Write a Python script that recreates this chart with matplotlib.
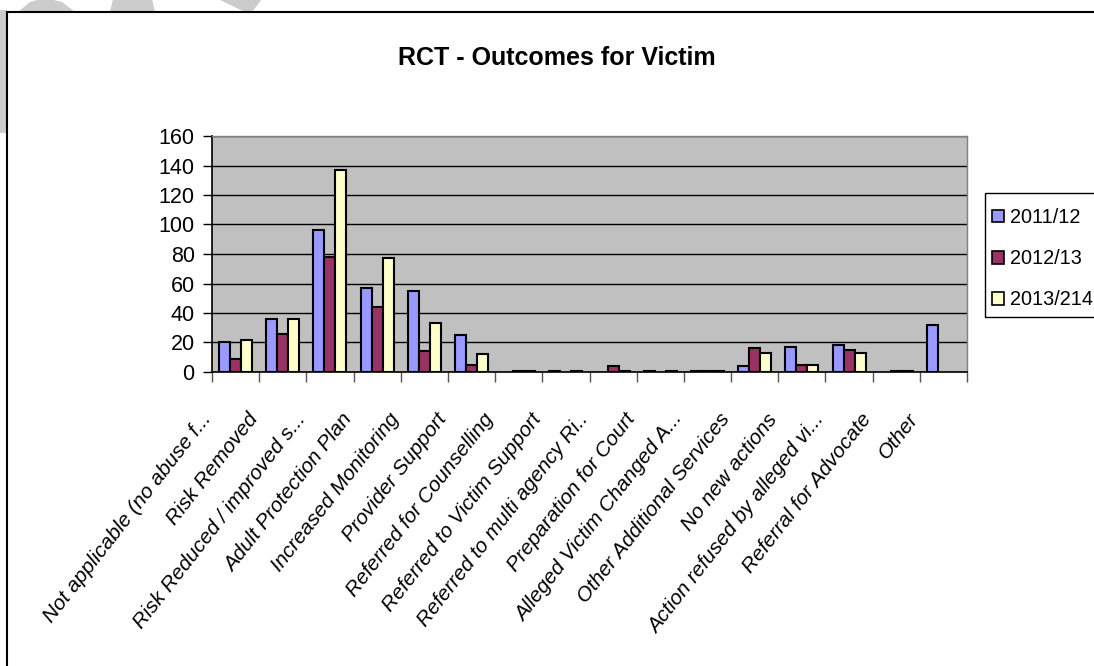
import matplotlib
matplotlib.use("Agg")
import matplotlib.pyplot as plt
import matplotlib.transforms as mtransforms
from matplotlib.patches import Patch, Rectangle, Polygon
import numpy as np

plt.rcParams['font.family'] = ['Liberation Sans', 'DejaVu Sans']

categories = ["Not applicable (no abuse f...", "Risk Removed", "Risk Reduced / improved s...",
              "Adult Protection Plan", "Increased Monitoring", "Provider Support",
              "Referred for Counselling", "Referred to Victim Support", "Referred to multi agency Ri..",
              "Preparation for Court", "Alleged Victim Changed A...", "Other Additional Services",
              "No new actions", "Action refused by alleged vi...", "Referral for Advocate", "Other"]
series_names = ["2011/12", "2012/13", "2013/214"]
y2011 = [20, 36, 96, 57, 55, 25, 0, 1, 0, 1, 1, 4, 17, 18, 0, 32]
y2012 = [9, 26, 78, 44, 14, 5, 1, 0, 4, 0, 1, 16, 5, 15, 1, 0]
y2013 = [22, 36, 137, 77, 33, 12, 1, 1, 1, 1, 1, 13, 5, 13, 1, 0]
colors = ["#9999FF", "#993366", "#FFFFCC"]

W, H = 1094, 666
fig = plt.figure(figsize=(W / 100, H / 100), dpi=100)

# faint watermark fragments outside the frame
for pts in [[(18, 12), (30, 2), (45, -2), (62, 2), (75, 12)],
            [(110, 12), (155, 12), (152, -1), (113, -1)],
            [(218, -1), (262, -1), (252, 12), (245, 12)],
            [(0, 10), (7, 10), (7, 133), (0, 133)]]:
    fig.add_artist(Polygon([(x / W, 1 - y / H) for x, y in pts], closed=True,
                           transform=fig.transFigure, facecolor="#CCCCCC",
                           edgecolor="none", zorder=-3))

# chart frame
fig.add_artist(Rectangle((7 / W, -0.1), 1.2, 1 - 12 / H + 0.1, transform=fig.transFigure,
                         facecolor="white", edgecolor="black", lw=1.5, zorder=-2))

ax = fig.add_axes([212 / W, 1 - 372 / H, (967 - 212) / W, (372 - 136) / H])
ax.set_facecolor("#C0C0C0")

x = np.arange(len(categories))
bw = 0.233
for k, (vals, col) in enumerate(zip([y2011, y2012, y2013], colors)):
    vals = np.array(vals, dtype=float)
    keep = vals > 0
    ax.bar(x[keep] + (k - 1) * bw, vals[keep], width=bw, color=col,
           edgecolor="black", linewidth=1.5, zorder=3)

ax.set_xlim(-0.5, len(categories) - 0.5)
ax.set_ylim(0, 160)
ax.set_yticks(np.arange(0, 161, 20))
ax.yaxis.grid(True, color="black", linewidth=1, zorder=1)
ax.set_axisbelow(True)
ax.tick_params(axis="y", length=6.5, width=1, pad=6, labelsize=15.5, direction="out")
ax.set_xticks(np.arange(-0.5, len(categories), 1))
ax.set_xticklabels([])
ax.tick_params(axis="x", length=7, width=1, direction="out", colors="#555555")

for s in ["left", "bottom"]:
    ax.spines[s].set_color("black")
    ax.spines[s].set_linewidth(1.2)
for s in ["top", "right"]:
    ax.spines[s].set_color("#808080")
    ax.spines[s].set_linewidth(1)

lab_tr = mtransforms.offset_copy(ax.get_xaxis_transform(), fig=fig, x=-36, y=-38, units="dots")
for i, lab in enumerate(categories):
    ax.text(i, 0, lab, transform=lab_tr, rotation=52, rotation_mode="anchor",
            ha="right", va="top", fontsize=15, style="italic")

fig.text(557 / W, 1 - 65 / H, "RCT - Outcomes for Victim", ha="center", va="baseline",
         fontsize=18, fontweight="bold")

# legend box drawn separately so the padding matches
fig.add_artist(Rectangle((985 / W, 1 - 317 / H), 0.2, (317 - 193) / H, transform=fig.transFigure,
                         facecolor="white", edgecolor="black", lw=1, zorder=2))
handles = [Patch(facecolor=c, edgecolor="black", linewidth=1.2) for c in colors]
leg = fig.legend(handles, series_names, loc="upper left",
                 bbox_to_anchor=(992 / W, 1 - 208 / H), bbox_transform=fig.transFigure,
                 fontsize=14.3, frameon=False,
                 handlelength=0.6, handleheight=0.6, handletextpad=0.3,
                 labelspacing=1.12, borderpad=0, borderaxespad=0)
leg.set_zorder(3)

fig.savefig("out.png", dpi=100)
